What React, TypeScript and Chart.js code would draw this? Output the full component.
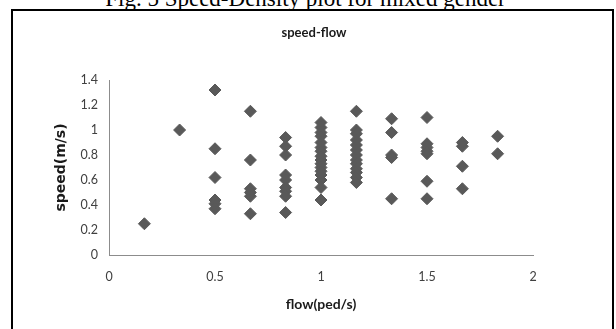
import React, { useEffect, useRef } from "react";
import { Chart, registerables } from "chart.js";

Chart.register(...registerables);

const captionText = "Fig. 5 Speed-Density plot for mixed gender";
const chartTitle = "speed-flow";
const xAxisTitle = "flow(ped/s)";
const yAxisTitle = "speed(m/s)";

const xTicks = [0, 0.5, 1, 1.5, 2];
const yTicks = [0, 0.2, 0.4, 0.6, 0.8, 1, 1.2, 1.4];

const flowLevels = [0.167, 0.333, 0.5, 0.667, 0.833, 1.0, 1.167, 1.333, 1.5, 1.667, 1.833];

const speedAt0167 = [0.25];
const speedAt0333 = [1.0];
const speedAt05 = [1.32, 0.85, 0.62, 0.44, 0.41, 0.37];
const speedAt0667 = [1.15, 0.76, 0.53, 0.5, 0.47, 0.33];
const speedAt0833 = [0.94, 0.87, 0.8, 0.64, 0.6, 0.54, 0.51, 0.47, 0.34];
const speedAt1 = [1.06, 1.02, 0.98, 0.95, 0.9, 0.86, 0.83, 0.79, 0.76, 0.73, 0.7, 0.67, 0.64, 0.6, 0.54, 0.44];
const speedAt1167 = [1.15, 1.0, 0.97, 0.92, 0.88, 0.84, 0.8, 0.76, 0.73, 0.69, 0.66, 0.62, 0.58];
const speedAt1333 = [1.09, 0.98, 0.8, 0.78, 0.45];
const speedAt15 = [1.1, 0.89, 0.86, 0.83, 0.81, 0.59, 0.45];
const speedAt1667 = [0.9, 0.87, 0.71, 0.53];
const speedAt1833 = [0.95, 0.81];

const speedColumns = [
  speedAt0167,
  speedAt0333,
  speedAt05,
  speedAt0667,
  speedAt0833,
  speedAt1,
  speedAt1167,
  speedAt1333,
  speedAt15,
  speedAt1667,
  speedAt1833,
];

const fmt = (v: number) => String(Number(Number(v).toFixed(1)));

export default function App() {
  const canvasRef = useRef<HTMLCanvasElement | null>(null);

  useEffect(() => {
    const canvas = canvasRef.current;
    if (!canvas) return;
    const points: { x: number; y: number }[] = [];
    flowLevels.forEach((f, i) => {
      speedColumns[i].forEach((s) => points.push({ x: f, y: s }));
    });

    const chart = new Chart(canvas, {
      type: "scatter",
      data: {
        datasets: [
          {
            data: points,
            pointStyle: "rectRot",
            pointRadius: 6,
            pointHoverRadius: 6,
            backgroundColor: "#595959",
            borderColor: "#595959",
            borderWidth: 1,
          },
        ],
      },
      options: {
        responsive: false,
        animation: false,
        events: [],
        layout: { padding: { left: 12, right: 0, top: 0, bottom: 0 } },
        plugins: {
          legend: { display: false },
          tooltip: { enabled: false },
          title: {
            display: true,
            text: chartTitle,
            color: "#1a1a1a",
            font: { family: "Lato", size: 13, weight: "bold" },
            padding: { top: 25.5, bottom: 38.9 },
          },
        },
        scales: {
          x: {
            type: "linear",
            min: 0,
            max: 2,
            afterBuildTicks: (s: any) => {
              s.ticks = xTicks.map((v) => ({ value: v }));
            },
            afterFit: (s: any) => {
              s.height = 74;
            },
            grid: { display: false, drawTicks: false },
            border: { display: true, color: "#8c8c8c", width: 1 },
            ticks: {
              padding: 14,
              color: "#404040",
              font: { family: "Lato", size: 12.5 },
              callback: (v: any) => fmt(v),
            },
            title: {
              display: true,
              text: xAxisTitle,
              color: "#1a1a1a",
              font: { family: "Lato", size: 14, weight: "bold" },
              padding: { top: 0, bottom: 16 },
            },
          },
          y: {
            type: "linear",
            position: "left",
            min: 0,
            max: 1.4,
            afterBuildTicks: (s: any) => {
              s.ticks = yTicks.map((v) => ({ value: v }));
            },
            afterFit: (s: any) => {
              s.width = 97;
            },
            grid: { display: false, drawTicks: false },
            border: { display: true, color: "#8c8c8c", width: 1 },
            ticks: {
              padding: 11,
              color: "#404040",
              font: { family: "Lato", size: 12.5 },
              callback: (v: any) => fmt(v),
            },
            title: {
              display: true,
              text: yAxisTitle,
              color: "#1a1a1a",
              font: { family: "DejaVu Sans", size: 14, weight: "bold" },
              padding: { top: 40.6, bottom: 0 },
            },
          },
          y2: {
            type: "linear",
            position: "right",
            display: true,
            afterFit: (s: any) => {
              s.width = 83;
            },
            grid: { display: false, drawTicks: false },
            border: { display: false },
            ticks: { display: false },
          },
        },
      },
    } as any);

    return () => {
      chart.destroy();
    };
  }, []);

  return (
    <div
      style={{
        position: "absolute",
        left: 0,
        top: 0,
        width: 616,
        height: 329,
        overflow: "hidden",
        background: "#ffffff",
      }}
    >
      <div
        style={{
          position: "absolute",
          left: 0,
          top: -13.5,
          width: 611,
          textAlign: "center",
          fontFamily: "'Liberation Serif', 'Times New Roman', serif",
          fontSize: 23,
          lineHeight: "23px",
          color: "#000",
          whiteSpace: "nowrap",
        }}
      >
        {captionText}
      </div>
      <div
        style={{
          position: "absolute",
          left: 11,
          top: 9,
          width: 603,
          height: 340,
          boxSizing: "border-box",
          border: "2px solid #000",
        }}
      />
      <canvas
        ref={canvasRef}
        width={616}
        height={329}
        style={{ position: "absolute", left: 0, top: 0, width: 616, height: 329 }}
      />
    </div>
  );
}
